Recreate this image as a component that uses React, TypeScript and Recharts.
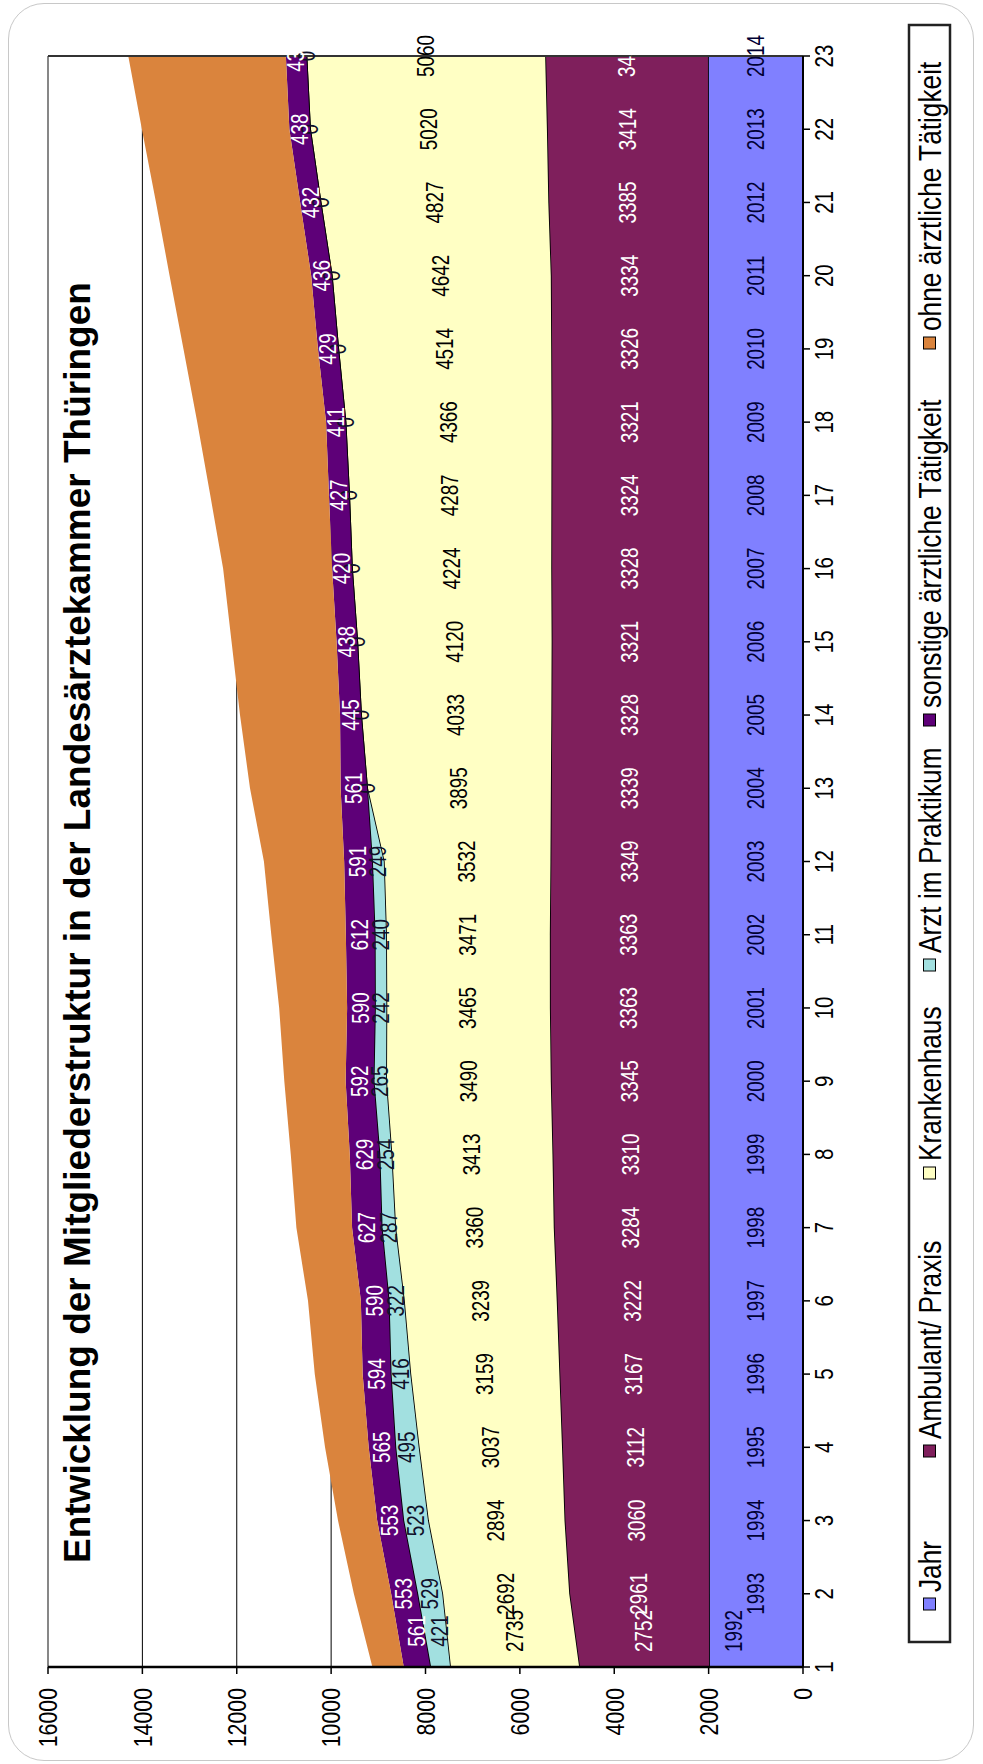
import {
  ComposedChart,
  Area,
  Line,
  XAxis,
  YAxis,
  CartesianGrid,
  ReferenceLine,
  LabelList,
} from 'recharts'

const FONT = '"Liberation Sans", Arial, sans-serif'

const categories = [1, 2, 3, 4, 5, 6, 7, 8, 9, 10, 11, 12, 13, 14, 15, 16, 17, 18, 19, 20, 21, 22, 23]

const jahr = [1992, 1993, 1994, 1995, 1996, 1997, 1998, 1999, 2000, 2001, 2002, 2003, 2004, 2005, 2006, 2007, 2008, 2009, 2010, 2011, 2012, 2013, 2014]
const ambulant = [2752, 2961, 3060, 3112, 3167, 3222, 3284, 3310, 3345, 3363, 3363, 3349, 3339, 3328, 3321, 3328, 3324, 3321, 3326, 3334, 3385, 3414, 3450]
const krankenhaus = [2735, 2692, 2894, 3037, 3159, 3239, 3360, 3413, 3490, 3465, 3471, 3532, 3895, 4033, 4120, 4224, 4287, 4366, 4514, 4642, 4827, 5020, 5060]
const aip = [421, 529, 523, 495, 416, 322, 287, 254, 265, 242, 240, 249, 0, 0, 0, 0, 0, 0, 0, 0, 0, 0, 0]
const sonstige = [561, 553, 553, 565, 594, 590, 627, 629, 592, 590, 612, 591, 561, 445, 438, 420, 427, 411, 429, 436, 432, 438, 435]
const ohne = [664, 790, 830, 925, 1015, 1120, 1180, 1250, 1300, 1440, 1580, 1700, 1920, 2120, 2225, 2310, 2515, 2730, 2850, 3000, 3055, 3125, 3340]

const valueTicks = [0, 2000, 4000, 6000, 8000, 10000, 12000, 14000, 16000]

const legendItems = [
  { name: 'Jahr', color: '#8080ff' },
  { name: 'Ambulant/ Praxis', color: '#7f1f5c' },
  { name: 'Krankenhaus', color: '#ffffc4' },
  { name: 'Arzt im Praktikum', color: '#a2e0e0' },
  { name: 'sonstige ärztliche Tätigkeit', color: '#5e0078' },
  { name: 'ohne ärztliche Tätigkeit', color: '#da843d' },
]
// legend marker centres along the box
const legendX = [160, 313, 591, 799, 1044, 1421]

const data = categories.map((cat, i) => {
  const b1 = jahr[i]
  const b2 = b1 + ambulant[i]
  const b3 = b2 + krankenhaus[i]
  const b4 = b3 + aip[i]
  return {
    cat,
    jahr: jahr[i],
    ambulant: ambulant[i],
    krankenhaus: krankenhaus[i],
    aip: aip[i],
    sonstige: sonstige[i],
    ohne: ohne[i],
    jahrMid: b1 / 2,
    ambulantMid: b1 + ambulant[i] / 2,
    krankenhausMid: b2 + krankenhaus[i] / 2,
    aipMid: b3 + aip[i] / 2,
    sonstigeMid: b4 + sonstige[i] / 2,
  }
})

// first label of a series sits half a step inside the plot, like Excel does
const narrowLabel = (color: string, firstDy = 0) => (props: any) => {
  const { x, y, value, index } = props
  if (x == null || y == null) return null
  const dx = index === 0 ? 36 : 0
  const dy = index === 0 ? firstDy : 0
  return (
    <text
      transform={`translate(${x + dx},${y + dy}) scale(0.82,1)`}
      textAnchor="middle"
      dominantBaseline="central"
      fill={color}
      fontSize={23}
      fontFamily={FONT}
    >
      {value}
    </text>
  )
}

const YTick = (props: any) => {
  const { x, y, payload } = props
  return (
    <text
      transform={`translate(${x},${y}) scale(0.82,1)`}
      textAnchor="end"
      dominantBaseline="central"
      fill="#000"
      fontSize={26}
      fontFamily={FONT}
    >
      {payload.value}
    </text>
  )
}

const XTick = (props: any) => {
  const { x, y, payload } = props
  return (
    <text
      transform={`translate(${x},${y}) scale(0.82,1)`}
      textAnchor="middle"
      dy="0.71em"
      fill="#000"
      fontSize={25}
      fontFamily={FONT}
    >
      {payload.value}
    </text>
  )
}

export default function App() {
  return (
    <div
      style={{
        position: 'absolute',
        left: 0,
        top: 0,
        width: 983,
        height: 1764,
        overflow: 'hidden',
        background: '#fff',
      }}
    >
      <div
        style={{
          position: 'absolute',
          left: 8,
          top: 3,
          width: 966,
          height: 1758,
          border: '1.5px solid #c8c8c8',
          borderRadius: 36,
          boxSizing: 'border-box',
        }}
      />
      <div
        style={{
          position: 'absolute',
          left: 0,
          top: 0,
          width: 1764,
          height: 983,
          transform: 'translateY(1764px) rotate(-90deg)',
          transformOrigin: '0 0',
        }}
      >
        <ComposedChart
          width={1764}
          height={983}
          data={data}
          margin={{ top: 48, right: 56, bottom: 140, left: 0 }}
        >
          <CartesianGrid vertical={false} stroke="#000" strokeWidth={1} />
          <XAxis
            dataKey="cat"
            interval={0}
            height={40}
            tickSize={7}
            tickMargin={5}
            tick={<XTick />}
            axisLine={{ stroke: '#000', strokeWidth: 2 }}
            tickLine={{ stroke: '#000', strokeWidth: 1.5 }}
          />
          <YAxis
            type="number"
            domain={[0, 16000]}
            ticks={valueTicks}
            interval={0}
            width={97}
            tickSize={7}
            tickMargin={14}
            tick={<YTick />}
            axisLine={{ stroke: '#000', strokeWidth: 2.5 }}
            tickLine={{ stroke: '#000', strokeWidth: 1.5 }}
          />
          <Area type="linear" dataKey="jahr" stackId="a" fill="#8080ff" fillOpacity={1} stroke="#000" strokeWidth={1.8} isAnimationActive={false} />
          <Area type="linear" dataKey="ambulant" stackId="a" fill="#7f1f5c" fillOpacity={1} stroke="#000" strokeWidth={1.8} isAnimationActive={false} />
          <Area type="linear" dataKey="krankenhaus" stackId="a" fill="#ffffc4" fillOpacity={1} stroke="#000" strokeWidth={1.8} isAnimationActive={false} />
          <Area type="linear" dataKey="aip" stackId="a" fill="#a2e0e0" fillOpacity={1} stroke="#000" strokeWidth={1.8} isAnimationActive={false} />
          <Area type="linear" dataKey="sonstige" stackId="a" fill="#5e0078" fillOpacity={1} stroke="none" isAnimationActive={false} />
          <Area type="linear" dataKey="ohne" stackId="a" fill="#da843d" fillOpacity={1} stroke="none" isAnimationActive={false} />
          <ReferenceLine y={16000} stroke="#8a8a8a" strokeWidth={1.5} />
          <ReferenceLine x={23} stroke="#333" strokeWidth={2} />

          <Line dataKey="jahrMid" stroke="none" dot={false} activeDot={false} isAnimationActive={false}>
            <LabelList dataKey="jahr" content={narrowLabel('#000033', -22)} />
          </Line>
          <Line dataKey="ambulantMid" stroke="none" dot={false} activeDot={false} isAnimationActive={false}>
            <LabelList dataKey="ambulant" content={narrowLabel('#ffffff')} />
          </Line>
          <Line dataKey="krankenhausMid" stroke="none" dot={false} activeDot={false} isAnimationActive={false}>
            <LabelList dataKey="krankenhaus" content={narrowLabel('#000000')} />
          </Line>
          <Line dataKey="aipMid" stroke="none" dot={false} activeDot={false} isAnimationActive={false}>
            <LabelList dataKey="aip" content={narrowLabel('#10102a')} />
          </Line>
          <Line dataKey="sonstigeMid" stroke="none" dot={false} activeDot={false} isAnimationActive={false}>
            <LabelList dataKey="sonstige" content={narrowLabel('#ffffff')} />
          </Line>
        </ComposedChart>

        <svg
          width={1764}
          height={983}
          style={{ position: 'absolute', left: 0, top: 0, pointerEvents: 'none' }}
        >
          <text x={201} y={90} fontSize={37} fontWeight="bold" fontFamily={FONT} fill="#000">
            Entwicklung der Mitgliederstruktur in der Landesärztekammer Thüringen
          </text>
          <rect x={122} y={909} width={1617} height={41} fill="#fff" stroke="#222" strokeWidth={2.5} />
          {legendItems.map((item, i) => (
            <g key={item.name}>
              <rect x={legendX[i] - 6} y={923.5} width={12} height={12} fill={item.color} stroke="#000" strokeWidth={1} />
              <text
                transform={`translate(${legendX[i] + 12},${930}) scale(0.82,1)`}
                dominantBaseline="central"
                fontSize={32}
                fontFamily={FONT}
                fill="#000"
              >
                {item.name}
              </text>
            </g>
          ))}
        </svg>
      </div>
    </div>
  )
}
